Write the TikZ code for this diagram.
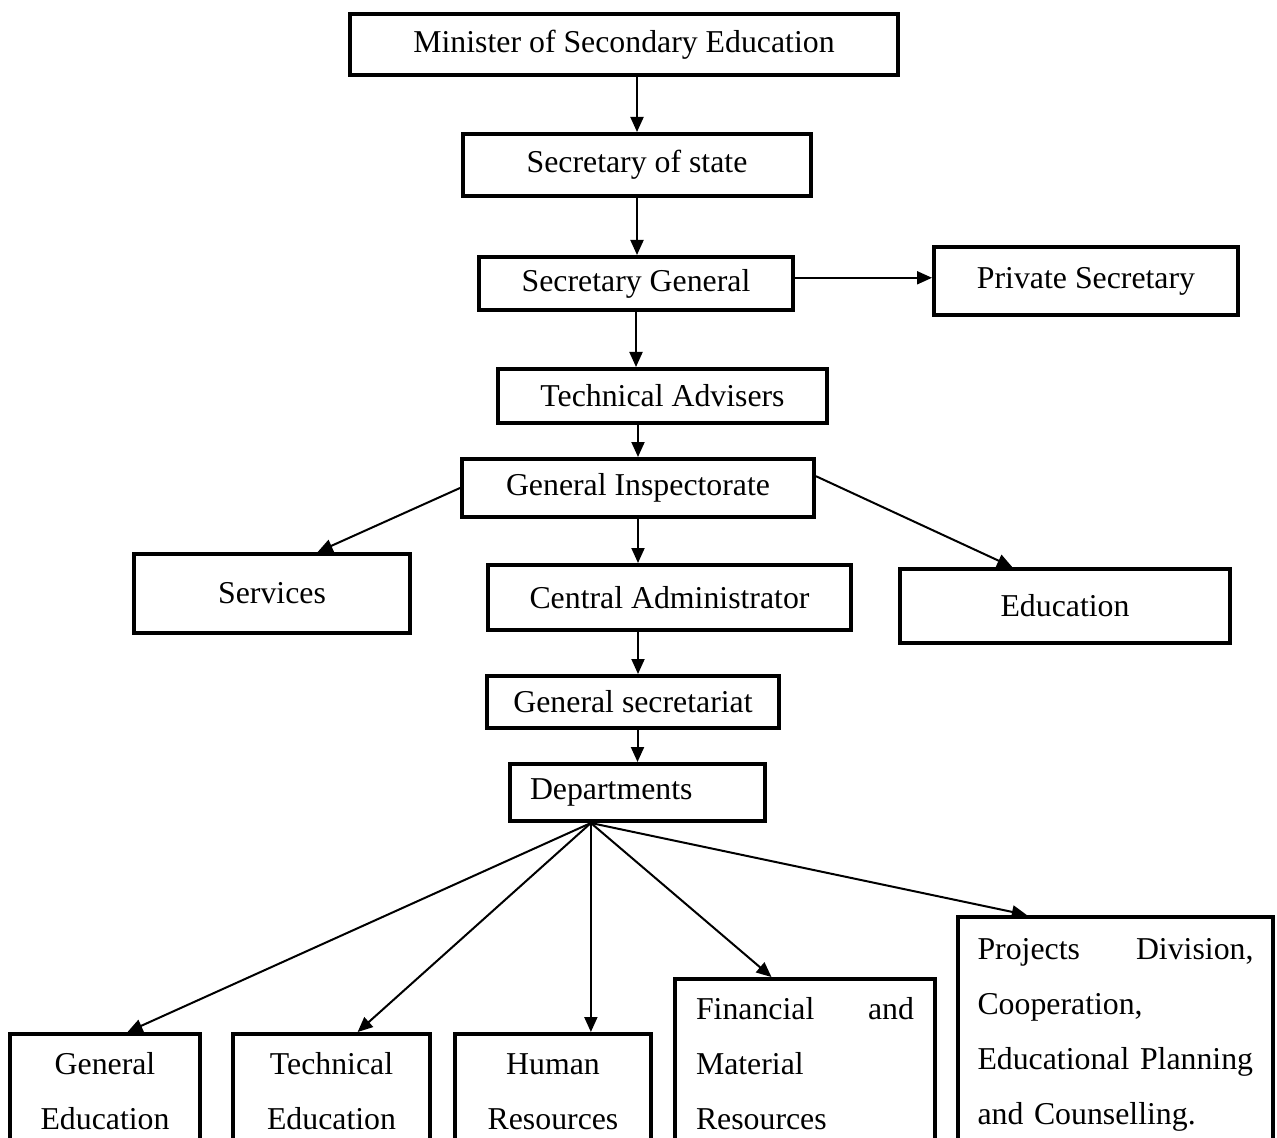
\documentclass[tikz,border=0pt]{standalone}
\usepackage{fontspec}
\setmainfont{Liberation Serif}
\usetikzlibrary{arrows.meta,calc}

\begin{document}
\begin{tikzpicture}[x=0.5pt,y=-0.5pt,
    box/.style={draw,line width=2pt,inner sep=0pt,align=center,
      font=\fontsize{15.9pt}{27.5pt}\selectfont},
    arr/.style={line width=1pt,-{Triangle[length=7.5pt,width=6.5pt]}}]
  \clip (0,0) rectangle (1277,1138);

  % Chain of command
  \node[box,minimum width=274pt,minimum height=30.5pt] (minister) at (624,44.5)
    {Minister of Secondary Education};
  \node[box,minimum width=174pt,minimum height=31pt] (secstate) at (637,165)
    {Secretary of state};
  \node[box,minimum width=157pt,minimum height=26.5pt] (secgen) at (636,283.5)
    {Secretary General};
  \node[box,minimum width=152pt,minimum height=34pt] (private) at (1086,281)
    {Private Secretary};
  \node[box,minimum width=164.5pt,minimum height=27pt] (techadv) at (662.5,396)
    {Technical Advisers};
  \node[box,minimum width=176pt,minimum height=29pt] (geninsp) at (638,488)
    {General Inspectorate};

  % Inspectorate branches
  \node[box,minimum width=138pt,minimum height=39.5pt] (services) at (272,593.5)
    {Services};
  \node[box,minimum width=181.5pt,minimum height=32.5pt] (centadmin) at (669.5,597.5)
    {Central Administrator};
  \node[box,minimum width=165pt,minimum height=37pt] (education) at (1065,606)
    {Education};
  \node[box,minimum width=146pt,minimum height=26pt] (gensec) at (633,702)
    {General secretariat};
  \node[box,align=left,text width=107.5pt,inner xsep=10pt,minimum height=28.5pt]
    (depts) at (637.5,792.5) {Departments};

  % Departments (cut by the page bottom)
  \node[box,anchor=north,text width=95pt,minimum height=57.5pt] (gened) at (105,1032)
    {General\\Education};
  \node[box,anchor=north,text width=98.5pt,minimum height=57.5pt] (techedu) at (331.5,1032)
    {Technical\\Education};
  \node[box,anchor=north,text width=98pt,minimum height=57.5pt] (humres) at (553,1032)
    {Human\\Resources};
  \node[box,anchor=north,align=left,text width=109pt,inner xsep=10.5pt,minimum height=85pt]
    (finmat) at (805,977) {Financial\hfill and\\Material\\Resources};
  \node[box,anchor=north,align=left,text width=138pt,inner xsep=9.75pt,minimum height=117.5pt]
    (projects) at (1115.5,915)
    {Projects\hfill Division,\\Cooperation,\\Educational Planning\\and Counselling.};

  % Arrows
  \coordinate (sgout) at ($(secgen.north east)!0.4!(secgen.south east)$);
  \draw[arr] (secstate.north |- minister.south) -- (secstate.north);
  \draw[arr] (secstate.south) -- (secstate.south |- secgen.north);
  \draw[arr] (sgout) -- (sgout -| private.west);
  \draw[arr] (secgen.south) -- (secgen.south |- techadv.north);
  \draw[arr] (geninsp.north |- techadv.south) -- (geninsp.north);
  \draw[arr] (geninsp.west) -- ($(services.north west)!0.663!(services.north east)$);
  \draw[arr] ($(geninsp.north east)!0.31!(geninsp.south east)$)
    -- ($(education.north west)!0.342!(education.north east)$);
  \draw[arr] (geninsp.south) -- (geninsp.south |- centadmin.north);
  \draw[arr] (geninsp.south |- centadmin.south) -- (geninsp.south |- gensec.north);
  \draw[arr] (depts.north |- gensec.south) -- (depts.north);

  % Fan out of Departments
  \coordinate (fan) at ($(depts.south west)!0.32!(depts.south east)$);
  \draw[arr] (fan) -- ($(gened.north west)!0.616!(gened.north east)$);
  \draw[arr] (fan) -- ($(techedu.north west)!0.63!(techedu.north east)$);
  \draw[arr] (fan) -- (fan |- humres.north);
  \draw[arr] (fan) -- ($(finmat.north west)!0.373!(finmat.north east)$);
  \draw[arr] (fan) -- ($(projects.north west)!0.222!(projects.north east)$);
\end{tikzpicture}
\end{document}
